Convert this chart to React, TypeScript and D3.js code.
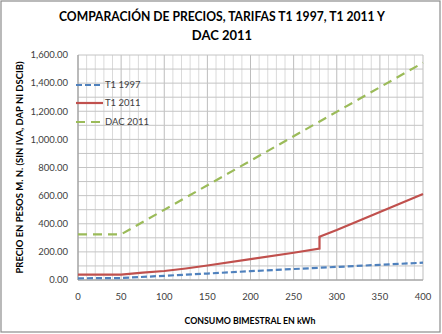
import React from "react";
import * as d3 from "d3";

const W = 442;
const H = 334;

const t1997Kwh = [0, 50, 100, 150, 200, 250, 280, 300, 350, 400];
const t1997Val = [12, 14, 30, 46, 63, 78, 87, 93, 108, 123];

const t2011Kwh = [0, 50, 75, 100, 125, 150, 200, 250, 280, 280, 300, 350, 400];
const t2011Val = [38, 38, 52, 64, 82, 103, 148, 194, 223, 308, 355, 483, 612];

const dacKwh = [0, 50, 400];
const dacVal = [325, 325, 1545];

const seriesNames = ["T1 1997", "T1 2011", "DAC 2011"];
const seriesColors = ["#4f81bd", "#c0504d", "#9bbb59"];
const seriesDash = ["6,3", "none", "9,6"];

const xTicks = [0, 50, 100, 150, 200, 250, 300, 350, 400];
const yTicks = [0, 200, 400, 600, 800, 1000, 1200, 1400, 1600];

const titleLines = ["COMPARACIÓN DE PRECIOS, TARIFAS T1 1997, T1 2011 Y", "DAC 2011"];
const xTitle = "CONSUMO BIMESTRAL EN kWh";
const yTitle = "PRECIO EN PESOS M. N. (SIN IVA, DAP NI DSCIB)";

export default function App() {
  const left = 78, right = 423, top = 55, bottom = 280;
  const x = d3.scaleLinear().domain([0, 400]).range([left, right]);
  const y = d3.scaleLinear().domain([0, 1600]).range([bottom, top]);
  const fmt = d3.format(",.2f");
  const line = d3.line<[number, number]>().x(d => x(d[0])).y(d => y(d[1]));

  const series = [
    t1997Kwh.map((k, i) => [k, t1997Val[i]] as [number, number]),
    t2011Kwh.map((k, i) => [k, t2011Val[i]] as [number, number]),
    dacKwh.map((k, i) => [k, dacVal[i]] as [number, number]),
  ];

  const vMinor = d3.range(0, 401, 10);
  const hLines = d3.range(0, 1601, 100);
  const font = "Lato, 'Open Sans', sans-serif";

  return (
    <svg width={W} height={H} style={{ position: "absolute", left: 0, top: 0 }} fontFamily={font}>
      <rect x={0} y={0} width={W} height={H} fill="#fff" />
      <rect x={1} y={1} width={W - 3} height={H - 3} fill="none" stroke="#8c8c8c" strokeWidth={1.2} />
      {/* title */}
      <text x={222} y={21} textAnchor="middle" fontSize={13} fontWeight="bold" fill="#000" textLength={326} lengthAdjust="spacingAndGlyphs">{titleLines[0]}</text>
      <text x={222} y={40} textAnchor="middle" fontSize={13} fontWeight="bold" fill="#000">{titleLines[1]}</text>
      {/* grid */}
      {vMinor.map(v => (
        <line key={"v" + v} x1={x(v)} x2={x(v)} y1={top} y2={bottom} stroke={v % 50 === 0 ? "#bdbdbd" : "#dadada"} strokeWidth={1} />
      ))}
      {hLines.map(v => (
        <line key={"h" + v} x1={left} x2={right} y1={y(v)} y2={y(v)} stroke="#c4c4c4" strokeWidth={1} />
      ))}
      <line x1={left} x2={left} y1={top} y2={bottom} stroke="#969696" />
      <line x1={left} x2={right} y1={bottom} y2={bottom} stroke="#969696" />
      {/* tick labels */}
      {yTicks.map(v => (
        <text key={"yt" + v} x={68} y={y(v)} dy="0.35em" textAnchor="end" fontSize={9.5} fill="#404040">{fmt(v)}</text>
      ))}
      {xTicks.map(v => (
        <text key={"xt" + v} x={x(v)} y={297} dy="0.35em" textAnchor="middle" fontSize={9.5} fill="#404040">{v}</text>
      ))}
      {/* series */}
      {series.map((s, i) => (
        <path key={"s" + i} d={line(s) || ""} fill="none" stroke={seriesColors[i]} strokeWidth={2.2} strokeDasharray={seriesDash[i]} />
      ))}
      {/* legend */}
      {seriesNames.map((n, i) => {
        const ly = [85, 103, 122][i];
        return (
          <g key={"lg" + i}>
            <line x1={76} x2={103} y1={ly} y2={ly} stroke={seriesColors[i]} strokeWidth={2.2} strokeDasharray={seriesDash[i]} />
            <text x={105} y={ly} dy="0.35em" fontSize={9.5} fill="#404040">{n}</text>
          </g>
        );
      })}
      {/* axis titles */}
      <text x={250} y={321} dy="0.35em" textAnchor="middle" fontSize={9} fontWeight="bold" fill="#000" textLength={131} lengthAdjust="spacingAndGlyphs">{xTitle}</text>
      <text transform={`translate(20,${(top + bottom) / 2}) rotate(-90)`} textAnchor="middle" dy="0.35em" fontSize={9.5} fontWeight="bold" fill="#000" textLength={212} lengthAdjust="spacingAndGlyphs">{yTitle}</text>
    </svg>
  );
}
